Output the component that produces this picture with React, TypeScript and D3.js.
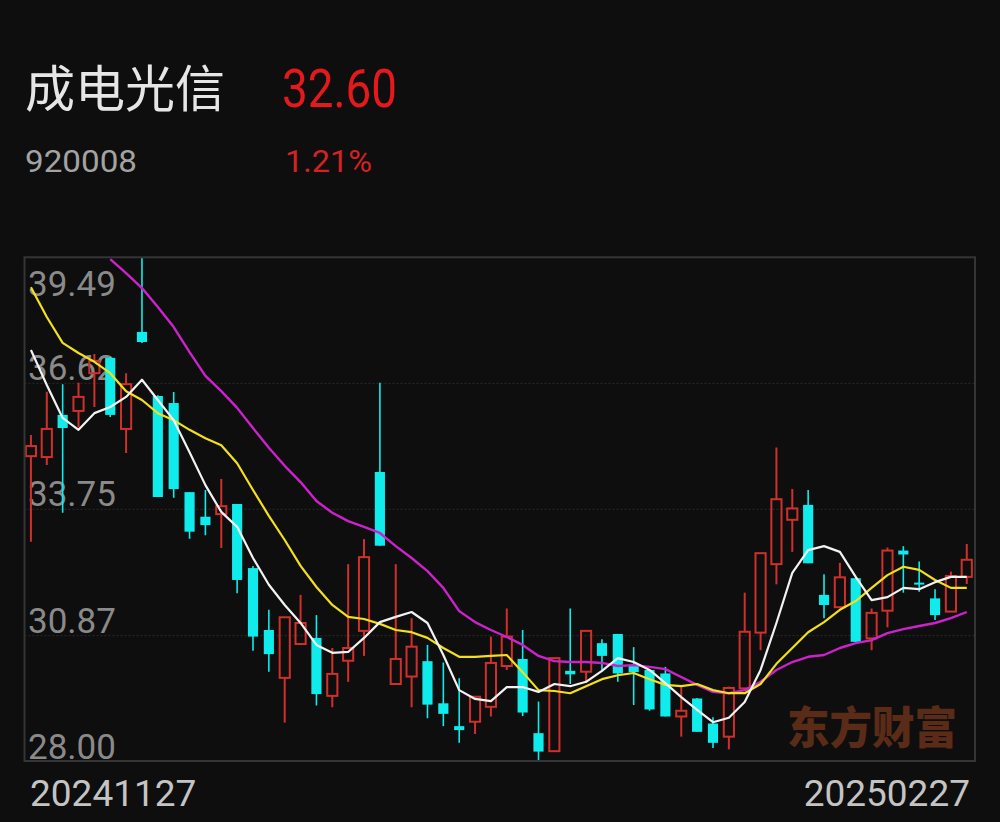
import React from "react";
import * as d3 from "d3";

const dates = [
  "20241127","20241128","20241129",
  "20241202","20241203","20241204","20241205","20241206",
  "20241209","20241210","20241211","20241212","20241213",
  "20241216","20241217","20241218","20241219","20241220",
  "20241223","20241224","20241225","20241226","20241227",
  "20241230","20241231",
  "20250102","20250103",
  "20250106","20250107","20250108","20250109","20250110",
  "20250113","20250114","20250115","20250116","20250117",
  "20250120","20250121","20250122","20250123","20250124",
  "20250127",
  "20250205","20250206","20250207",
  "20250210","20250211","20250212","20250213","20250214",
  "20250217","20250218","20250219","20250220","20250221",
  "20250224","20250225","20250226","20250227",
];

const opens = [
  34.96, 34.94, 35.90, 35.99, 36.85, 37.20, 35.58, 37.79, 36.33, 36.17,
  34.14, 33.58, 33.64, 33.87, 32.41, 31.00, 29.91, 30.68, 30.82, 29.50,
  30.30, 30.98, 34.60, 29.77, 29.94, 30.29, 29.33, 28.81, 28.91, 29.25,
  30.18, 30.34, 28.65, 28.24, 30.07, 30.05, 30.70, 30.91, 30.18, 30.09,
  30.01, 29.03, 29.44, 28.87, 28.57, 29.67, 30.94, 32.50, 33.51, 33.85,
  31.80, 31.52, 32.18, 30.81, 31.44, 32.81, 32.08, 31.72, 31.42, 32.21,
];
const highs = [
  35.44, 36.43, 36.60, 36.63, 37.29, 37.22, 36.85, 39.49, 36.35, 36.42,
  34.14, 34.19, 34.44, 33.87, 32.46, 31.46, 31.29, 31.80, 31.34, 30.59,
  32.50, 33.07, 36.63, 32.50, 31.27, 30.66, 30.26, 29.90, 29.48, 30.85,
  31.49, 31.00, 29.37, 30.36, 31.49, 30.98, 30.79, 30.91, 30.61, 30.09,
  30.16, 29.71, 29.45, 29.01, 29.71, 31.85, 32.75, 35.16, 34.21, 34.19,
  32.27, 32.53, 32.18, 31.49, 32.88, 32.91, 32.56, 31.93, 32.33, 32.96,
];
const lows = [
  33.01, 34.76, 33.67, 35.62, 36.08, 35.85, 35.03, 37.54, 34.03, 34.01,
  33.08, 33.16, 32.87, 31.84, 30.53, 30.05, 28.89, 30.68, 29.28, 29.24,
  29.82, 30.41, 32.92, 29.77, 29.24, 28.99, 28.81, 28.43, 28.63, 29.03,
  30.09, 29.04, 28.00, 28.24, 29.77, 29.79, 30.05, 29.82, 29.29, 29.16,
  29.03, 28.57, 28.68, 28.31, 28.28, 29.67, 30.54, 32.04, 32.78, 32.52,
  31.27, 31.52, 30.73, 30.54, 31.06, 31.85, 31.87, 31.23, 31.42, 32.05,
];
const closes = [
  35.19, 35.58, 35.60, 36.31, 37.13, 35.90, 36.60, 37.56, 34.03, 34.21,
  33.24, 33.39, 33.82, 32.14, 30.85, 30.45, 31.29, 31.16, 29.54, 30.00,
  30.59, 32.66, 32.92, 30.34, 30.62, 29.30, 29.09, 28.72, 29.48, 30.25,
  30.85, 29.12, 28.23, 30.36, 29.99, 30.98, 30.41, 30.01, 30.04, 29.19,
  29.03, 29.16, 28.68, 28.43, 29.68, 30.96, 32.75, 33.98, 33.77, 32.52,
  31.57, 32.20, 30.73, 31.39, 32.81, 32.72, 32.05, 31.34, 32.23, 32.60,
];

const ma5 = [
  37.38, 36.58, 35.83, 35.56, 35.94, 36.08, 36.31, 36.70, 36.24, 35.78,
  35.05, 34.30, 33.69, 33.35, 32.64, 32.03, 31.57, 31.16, 30.66, 30.48,
  30.50, 30.82, 31.18, 31.30, 31.41, 31.16, 30.43, 29.63, 29.43, 29.38,
  29.70, 29.70, 29.59, 29.77, 29.72, 29.82, 30.07, 30.36, 30.27, 30.09,
  29.79, 29.47, 29.18, 28.90, 29.00, 29.36, 30.09, 31.16, 32.30, 32.82,
  32.91, 32.78, 32.21, 31.68, 31.75, 31.96, 31.93, 32.09, 32.21, 32.21,
];
const ma10 = [
  38.81, 38.13, 37.54, 37.31, 37.11, 36.85, 36.44, 36.24, 35.94, 35.78,
  35.56, 35.37, 35.21, 34.80, 34.19, 33.60, 33.05, 32.46, 31.98, 31.57,
  31.30, 31.25, 31.14, 31.00, 30.95, 30.82, 30.59, 30.39, 30.39, 30.41,
  30.43, 30.04, 29.63, 29.61, 29.56, 29.72, 29.88, 29.97, 30.02, 29.88,
  29.75, 29.72, 29.77, 29.63, 29.56, 29.56, 29.77, 30.23, 30.59, 30.95,
  31.18, 31.46, 31.66, 31.96, 32.25, 32.44, 32.37, 32.14, 31.96, 31.96,
];
const ma20: (number | null)[] = [
  null, null, null, null, null, 39.45, 39.13, 38.79, 38.36, 37.90,
  37.33, 36.79, 36.44, 36.06, 35.60, 35.15, 34.74, 34.37, 33.94, 33.67,
  33.48, 33.35, 33.21, 32.91, 32.64, 32.34, 31.96, 31.43, 31.18, 31.00,
  30.84, 30.66, 30.41, 30.29, 30.27, 30.27, 30.25, 30.18, 30.20, 30.16,
  30.11, 29.93, 29.75, 29.59, 29.56, 29.63, 29.82, 30.09, 30.27, 30.39,
  30.43, 30.59, 30.70, 30.77, 30.93, 31.02, 31.09, 31.16, 31.27, 31.41,
];

const yTicks = [39.49, 36.62, 33.75, 30.87, 28.0];

const stockName = "成电光信";
const stockCode = "920008";
const lastPrice = "32.60";
const changePct = "1.21%";
const watermark = "东方财富";

const W = 1000;
const H = 822;
const plot = { left: 24.5, right: 975, top: 257.3, bottom: 761 };

const RED = "#d0302b";
const CYAN = "#10ecec";
const BG = "#0e0e0e";

export default function App() {
  const x = d3
    .scaleBand<string>()
    .domain(dates)
    .range([23, 974.7])
    .padding(0);
  const step = x.step();
  const bodyW = step * 0.64;
  const cx = (i: number) => (x(dates[i]) as number) + step / 2;
  const y = d3.scaleLinear().domain([28, 39.49]).range([761.7, 257.3]);

  const lineGen = d3
    .line<number | null>()
    .defined((d) => d !== null)
    .x((_, i) => cx(i))
    .y((d) => y(d as number))
    .curve(d3.curveLinear);

  const fontNum = "Roboto, 'Noto Sans', sans-serif";

  return (
    <svg
      width={W}
      height={H}
      style={{ position: "absolute", left: 0, top: 0, background: BG, display: "block" }}
    >
      <rect x={0} y={0} width={W} height={H} fill={BG} />
      <defs>
        <clipPath id="plotClip">
          <rect x={plot.left} y={plot.top} width={plot.right - plot.left} height={plot.bottom - plot.top} />
        </clipPath>
      </defs>

      {/* header */}
      <text x={25} y={107} fill="#e6e6e6" fontSize={50} fontFamily="'Noto Sans CJK SC', sans-serif">
        {stockName}
      </text>
      <text
        x={282}
        y={106.5}
        fill="#e3191b"
        fontSize={54}
        fontFamily={fontNum}
        textLength={115}
        lengthAdjust="spacingAndGlyphs"
      >
        {lastPrice}
      </text>
      <text x={25} y={172} fill="#a3a3a3" fontSize={31} fontFamily={fontNum} textLength={112} lengthAdjust="spacingAndGlyphs">
        {stockCode}
      </text>
      <text x={285} y={172} fill="#d42222" fontSize={31} fontFamily={fontNum} textLength={87} lengthAdjust="spacingAndGlyphs">
        {changePct}
      </text>

      {/* grid */}
      {yTicks.slice(1, -1).map((t) => (
        <line
          key={"g" + t}
          x1={plot.left}
          x2={plot.right}
          y1={y(t)}
          y2={y(t)}
          stroke="#2c2c2c"
          strokeWidth={1}
          strokeDasharray="2,2"
        />
      ))}

      {/* watermark */}
      <text
        x={787}
        y={744}
        fill="#5a2c18"
        fontSize={44}
        fontWeight={900}
        fontFamily="'Noto Sans CJK SC', serif"
        textLength={170}
        lengthAdjust="spacingAndGlyphs"
      >
        {watermark}
      </text>

      {/* y tick labels */}
      {yTicks.map((t, i) => (
        <text
          key={"t" + t}
          x={28}
          y={i === 0 ? y(t) + 39 : y(t) - 3}
          fill="#8a8a8a"
          fontSize={35}
          fontFamily={fontNum}
        >
          {t.toFixed(2)}
        </text>
      ))}

      <g clipPath="url(#plotClip)">
        {/* candles */}
        {dates.map((d, i) => {
          const o = opens[i];
          const c = closes[i];
          const hi = highs[i];
          const lo = lows[i];
          const xc = cx(i);
          const up = c >= o;
          const top = y(Math.max(o, c));
          const bot = y(Math.min(o, c));
          if (up) {
            return (
              <g key={d}>
                {y(hi) < top - 0.5 && (
                  <line x1={xc} x2={xc} y1={y(hi)} y2={top} stroke={RED} strokeWidth={2} />
                )}
                {y(lo) > bot + 0.5 && (
                  <line x1={xc} x2={xc} y1={bot} y2={y(lo)} stroke={RED} strokeWidth={2} />
                )}
                <rect
                  x={xc - bodyW / 2}
                  y={top}
                  width={bodyW}
                  height={Math.max(bot - top, 1)}
                  fill="none"
                  stroke={RED}
                  strokeWidth={2}
                />
              </g>
            );
          }
          return (
            <g key={d}>
              <line x1={xc} x2={xc} y1={y(hi)} y2={y(lo)} stroke={CYAN} strokeWidth={1.6} />
              <rect
                x={xc - bodyW / 2}
                y={top}
                width={bodyW}
                height={Math.max(bot - top, 2)}
                fill={CYAN}
              />
            </g>
          );
        })}

        {/* moving averages */}
        <path d={lineGen(ma20) || ""} fill="none" stroke="#cc22cc" strokeWidth={2.4} strokeLinejoin="round" />
        <path d={lineGen(ma10) || ""} fill="none" stroke="#f2e01a" strokeWidth={2.2} strokeLinejoin="round" />
        <path d={lineGen(ma5) || ""} fill="none" stroke="#f2f2f2" strokeWidth={2.2} strokeLinejoin="round" />
      </g>

      {/* plot border */}
      <rect
        x={plot.left}
        y={plot.top}
        width={plot.right - plot.left}
        height={plot.bottom - plot.top}
        fill="none"
        stroke="#353535"
        strokeWidth={2}
      />

      {/* x labels */}
      <text x={30} y={806} fill="#c4c4c4" fontSize={37} fontFamily={fontNum}>
        {dates[0]}
      </text>
      <text x={970} y={806} fill="#c4c4c4" fontSize={37} fontFamily={fontNum} textAnchor="end">
        {dates[dates.length - 1]}
      </text>
    </svg>
  );
}
